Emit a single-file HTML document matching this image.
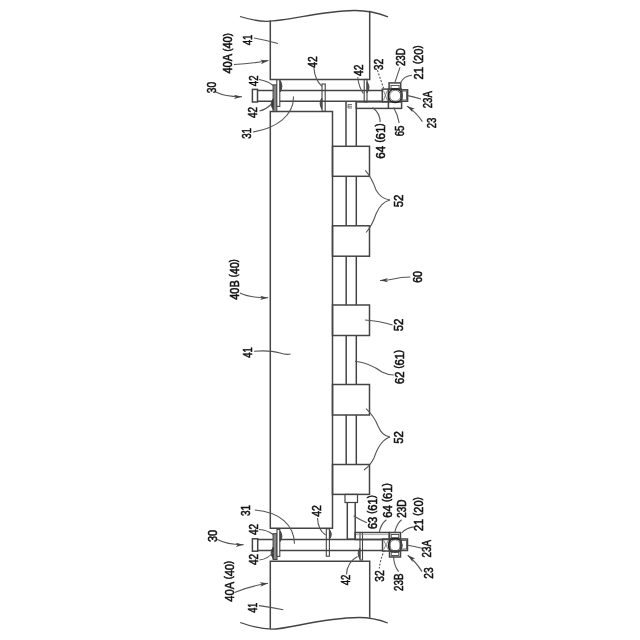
<!DOCTYPE html>
<html><head><meta charset="utf-8"><style>
html,body{margin:0;padding:0;background:#fff;}
body{width:640px;height:640px;overflow:hidden;}
svg{display:block;will-change:transform;}
text{font-family:"Liberation Sans",sans-serif;fill:#111;stroke:#111;stroke-width:0.55px;}
</style></head><body>
<svg width="640" height="640" viewBox="0 0 640 640">
<rect width="640" height="640" fill="#fff"/>
<path d="M240,16.5 C250,19.5 258,21.5 267,21.3 C290,21 320,11 354,10.5 C368,10.3 378,13 388,16.8" stroke="#444" stroke-width="1.3" fill="none" />
<path d="M240.2,622.5 C250,626 260,629 271.5,629.2 C290,629 320,618 359,617.5 C370,617.5 380,620 387.8,623" stroke="#444" stroke-width="1.3" fill="none" />
<path d="M270.3,20.5 V79.4 H369.7 V10.8" stroke="#444" stroke-width="1.5" fill="none" />
<path d="M270.3,111.6 V528.3 H332.5 V111.6 Z" stroke="#444" stroke-width="1.5" fill="none" />
<path d="M270.3,629 V561.3 H369.7 V617.7" stroke="#444" stroke-width="1.5" fill="none" />
<rect x="252.4" y="89.4" width="5.1" height="12.6" stroke="#444" stroke-width="1.5" fill="none"/>
<line x1="257.5" y1="90.4" x2="382.3" y2="90.4" stroke="#444" stroke-width="1.5" />
<line x1="257.5" y1="101.2" x2="382.3" y2="101.2" stroke="#444" stroke-width="1.5" />
<rect x="252.4" y="538.8" width="5.3" height="12.4" stroke="#444" stroke-width="1.5" fill="none"/>
<line x1="257.7" y1="539.6" x2="382.5" y2="539.6" stroke="#444" stroke-width="1.5" />
<line x1="257.7" y1="550.5" x2="382.5" y2="550.5" stroke="#444" stroke-width="1.5" />
<rect x="273.1" y="84.9" width="3.7" height="26.6" stroke="#444" stroke-width="1.1" fill="#9a9a9a"/>
<path d="M274.95000000000005,84.9 V111.5" stroke="#555" stroke-width="0.6"/>
<rect x="276.8" y="79.8" width="3.0" height="26.6" stroke="#444" stroke-width="1.1" fill="#fff"/>
<path d="M280.2,80.6 Q283.5,86 280.2,91.9 Z" stroke="#444" stroke-width="1.0" fill="#333" />
<path d="M273.3,98.6 Q269,104 273.3,109.5 Z" stroke="#444" stroke-width="1.0" fill="#333" />
<rect x="273.1" y="533.7" width="3.9" height="25.8" stroke="#444" stroke-width="1.1" fill="#9a9a9a"/>
<path d="M275.05,533.7 V559.5" stroke="#555" stroke-width="0.6"/>
<rect x="277.0" y="529.4" width="2.8" height="27.0" stroke="#444" stroke-width="1.1" fill="#fff"/>
<path d="M280.2,531 Q283.5,536.2 280.2,541.5 Z" stroke="#444" stroke-width="1.0" fill="#333" />
<path d="M273.3,547 Q269,552.8 273.3,558.7 Z" stroke="#444" stroke-width="1.0" fill="#333" />
<rect x="322.0" y="84.0" width="3.2" height="27.3" stroke="#444" stroke-width="1.1" fill="none"/>
<path d="M321.8,98 Q318.5,103.5 321.8,109 Z" stroke="#444" stroke-width="1.0" fill="#555" />
<rect x="326.3" y="528.8" width="3.1" height="27.4" stroke="#444" stroke-width="1.1" fill="none"/>
<path d="M329.6,530 Q333,534.4 329.6,538.8 Z" stroke="#444" stroke-width="1.0" fill="#555" />
<rect x="364.2" y="79.4" width="2.8" height="22.6" stroke="#444" stroke-width="1.1" fill="none"/>
<path d="M367,81.8 Q371,87.3 367,92.8 Z" stroke="#444" stroke-width="1.0" fill="#555" />
<rect x="360.0" y="532.5" width="2.5" height="27.5" stroke="#444" stroke-width="1.1" fill="none"/>
<path d="M359.8,548 Q356.5,553.4 359.8,558.8 Z" stroke="#444" stroke-width="1.0" fill="#555" />
<line x1="346.0" y1="101.5" x2="346.0" y2="146.3" stroke="#444" stroke-width="1.5" />
<line x1="356.3" y1="101.5" x2="356.3" y2="146.3" stroke="#444" stroke-width="1.5" />
<path d="M348,104.5 H352 M348,106.3 H352 M348,108 H352 M348,104.5 V108" stroke="#555" stroke-width="0.8" fill="none" />
<rect x="356.3" y="101.9" width="45.3" height="6.5" stroke="#444" stroke-width="1.5" fill="none"/>
<line x1="388.4" y1="101.9" x2="388.4" y2="108.4" stroke="#444" stroke-width="1.5" />
<rect x="332.5" y="146.3" width="37.0" height="30.0" stroke="#444" stroke-width="1.5" fill="none"/>
<rect x="332.5" y="225.8" width="37.0" height="30.399999999999977" stroke="#444" stroke-width="1.5" fill="none"/>
<rect x="332.5" y="305.0" width="37.0" height="30.5" stroke="#444" stroke-width="1.5" fill="none"/>
<rect x="332.5" y="384.5" width="37.0" height="30.5" stroke="#444" stroke-width="1.5" fill="none"/>
<rect x="332.5" y="464.5" width="37.0" height="29.899999999999977" stroke="#444" stroke-width="1.5" fill="none"/>
<line x1="346.2" y1="176.3" x2="346.2" y2="225.8" stroke="#444" stroke-width="1.5" />
<line x1="356.3" y1="176.3" x2="356.3" y2="225.8" stroke="#444" stroke-width="1.5" />
<line x1="346.2" y1="256.2" x2="346.2" y2="305.0" stroke="#444" stroke-width="1.5" />
<line x1="356.3" y1="256.2" x2="356.3" y2="305.0" stroke="#444" stroke-width="1.5" />
<line x1="346.2" y1="335.5" x2="346.2" y2="384.5" stroke="#444" stroke-width="1.5" />
<line x1="356.3" y1="335.5" x2="356.3" y2="384.5" stroke="#444" stroke-width="1.5" />
<line x1="346.2" y1="415.0" x2="346.2" y2="464.5" stroke="#444" stroke-width="1.5" />
<line x1="356.3" y1="415.0" x2="356.3" y2="464.5" stroke="#444" stroke-width="1.5" />
<rect x="345.0" y="494.4" width="12.5" height="8.1" stroke="#444" stroke-width="1.2" fill="none"/>
<line x1="347.3" y1="502.5" x2="347.3" y2="539.2" stroke="#444" stroke-width="1.5" />
<line x1="355.2" y1="502.5" x2="355.2" y2="539.2" stroke="#444" stroke-width="1.5" />
<line x1="347.3" y1="539.2" x2="355.2" y2="539.2" stroke="#444" stroke-width="1.5" />
<rect x="355.2" y="532.5" width="34.0" height="7.0" stroke="#444" stroke-width="1.5" fill="none"/>
<line x1="356" y1="534.6" x2="388" y2="534.6" stroke="#888" stroke-width="0.7" />
<rect x="389.1" y="82.9" width="11.6" height="6.2" stroke="#444" stroke-width="1.5" fill="none"/>
<rect x="391.0" y="85.4" width="8.1" height="3.1" stroke="#444" stroke-width="0.9" fill="none"/>
<rect x="382.3" y="89.1" width="6.2" height="12.5" stroke="#444" stroke-width="1.5" fill="none"/>
<path d="M383.5,90.5 L387.3,100.3 M387.3,90.5 L383.5,100.3" stroke="#555" stroke-width="0.7" fill="none" />
<rect x="388.5" y="89.1" width="12.8" height="12.5" stroke="#444" stroke-width="1.5" fill="none"/>
<circle cx="395.2" cy="95.8" r="6.9" fill="none" stroke="#1e1e1e" stroke-width="1.2"/>
<circle cx="395.2" cy="95.8" r="5.5" fill="none" stroke="#555" stroke-width="0.8"/>
<rect x="401.3" y="89.8" width="6.3" height="11.5" stroke="#444" stroke-width="1.5" fill="none"/>
<rect x="402.2" y="91.0" width="4.3" height="9.0" stroke="#444" stroke-width="0.8" fill="none"/>
<rect x="389.5" y="532.5" width="11.0" height="6.5" stroke="#444" stroke-width="1.5" fill="none"/>
<rect x="391.2" y="534.5" width="7.6" height="3.2" stroke="#444" stroke-width="0.9" fill="none"/>
<rect x="382.5" y="539.0" width="7.0" height="12.0" stroke="#444" stroke-width="1.5" fill="none"/>
<path d="M383.7,540.5 L388.3,549.5 M388.3,540.5 L383.7,549.5" stroke="#555" stroke-width="0.7" fill="none" />
<rect x="389.5" y="539.0" width="11.0" height="12.0" stroke="#444" stroke-width="1.5" fill="none"/>
<circle cx="395.2" cy="545.3" r="6.9" fill="none" stroke="#1e1e1e" stroke-width="1.2"/>
<circle cx="395.2" cy="545.3" r="5.5" fill="none" stroke="#555" stroke-width="0.8"/>
<rect x="400.5" y="539.0" width="7.0" height="11.5" stroke="#444" stroke-width="1.5" fill="none"/>
<rect x="401.5" y="540.5" width="5.0" height="8.5" stroke="#444" stroke-width="0.8" fill="none"/>
<rect x="389.5" y="551.0" width="11.0" height="6.0" stroke="#444" stroke-width="1.5" fill="none"/>
<rect x="391.2" y="552.3" width="7.6" height="3.2" stroke="#444" stroke-width="0.9" fill="none"/>
<path d="M254,38 Q265,40 278,43.5" stroke="#555" stroke-width="1.1" fill="none" />
<path d="M234,64.5 Q250,64 268.5,60.5" stroke="#555" stroke-width="1.1" fill="none" />
<path d="M268.5,60.5 L261.05,64.15 L262.60,61.62 L260.23,59.83 Z" fill="#444"/>
<path d="M215.6,92 Q226,97 242,96.7" stroke="#555" stroke-width="1.1" fill="none" />
<path d="M242,96.7 L234.04,99.05 L236.00,96.81 L233.96,94.65 Z" fill="#444"/>
<path d="M259,79.5 Q268,81 273,85.5" stroke="#555" stroke-width="1.1" fill="none" />
<path d="M259.5,111 Q266,109.5 271.5,104" stroke="#555" stroke-width="1.1" fill="none" />
<path d="M253,132 C276,128 294,116 293.5,96.5" stroke="#555" stroke-width="1.1" fill="none" />
<path d="M313.9,68.1 Q315,80 321.9,86.4" stroke="#555" stroke-width="1.1" fill="none" />
<path d="M357.7,77.3 Q359,88 363.4,93.4" stroke="#555" stroke-width="1.1" fill="none" />
<path d="M377.4,70.2 L383.7,88.5" stroke="#555" stroke-width="1.1" fill="none" stroke-dasharray="2,1.5"/>
<path d="M400,67.4 Q397,76 395,82.4" stroke="#555" stroke-width="1.1" fill="none" />
<path d="M411.9,75.2 Q404,76 400.6,82.4" stroke="#555" stroke-width="1.1" fill="none" />
<path d="M407.7,95.6 Q414,97 421,99" stroke="#555" stroke-width="1.1" fill="none" />
<path d="M422.4,121.6 Q416,112 407,106.1" stroke="#555" stroke-width="1.1" fill="none" />
<path d="M407,106.1 L414.90,108.65 L412.02,109.39 L412.48,112.33 Z" fill="#444"/>
<path d="M393.6,107.5 Q398,115 399.2,123" stroke="#555" stroke-width="1.1" fill="none" />
<path d="M372.5,107.5 Q380,113 380.2,122" stroke="#555" stroke-width="1.1" fill="none" />
<path d="M365.3,170.3 Q372,178 376,190 Q381,199 390,200" stroke="#555" stroke-width="1.1" fill="none" />
<path d="M366,232.5 Q372,226 376,214 Q381,202 390,200" stroke="#555" stroke-width="1.1" fill="none" />
<path d="M365,320 Q380,321 392.5,325" stroke="#555" stroke-width="1.1" fill="none" />
<path d="M355,361.2 Q370,363 382,372 Q388,375 393.8,375" stroke="#555" stroke-width="1.1" fill="none" />
<path d="M366,408.7 Q374,416 378,426 Q382,436 390,437" stroke="#555" stroke-width="1.1" fill="none" />
<path d="M364,470 Q370,466 374,458 Q380,440 390,437" stroke="#555" stroke-width="1.1" fill="none" />
<path d="M410.3,277 C400,277 393,279 388,280" stroke="#555" stroke-width="1.1" fill="none" />
<path d="M388,280 Q384,280.3 380,280.5" stroke="#555" stroke-width="1.1" fill="none" />
<path d="M380,280.5 L387.88,277.90 L385.99,280.20 L388.10,282.30 Z" fill="#444"/>
<path d="M240,293.1 Q250,298 268.1,297.8" stroke="#555" stroke-width="1.1" fill="none" />
<path d="M268.1,297.8 L260.12,300.09 L262.10,297.87 L260.08,295.69 Z" fill="#444"/>
<path d="M254,351.2 Q270,350 280,353 Q286,355 290.6,354" stroke="#555" stroke-width="1.1" fill="none" />
<path d="M254.8,510 C280,512 294,525 294.5,543.7" stroke="#555" stroke-width="1.1" fill="none" />
<path d="M259,529.5 Q268,530 273.5,535" stroke="#555" stroke-width="1.1" fill="none" />
<path d="M259.5,560 Q268,559 273.5,552" stroke="#555" stroke-width="1.1" fill="none" />
<path d="M217.3,539.6 Q228,545 243.7,544.7" stroke="#555" stroke-width="1.1" fill="none" />
<path d="M243.7,544.7 L235.74,547.05 L237.70,544.81 L235.66,542.65 Z" fill="#444"/>
<path d="M234.5,592.4 Q250,586 268,583.3" stroke="#555" stroke-width="1.1" fill="none" />
<path d="M268,583.3 L260.41,586.66 L262.07,584.19 L259.76,582.31 Z" fill="#444"/>
<path d="M259,605.6 Q270,607 283.3,609.7" stroke="#555" stroke-width="1.1" fill="none" />
<path d="M317.5,518 Q318,530 325.6,535" stroke="#555" stroke-width="1.1" fill="none" />
<path d="M353.6,515.8 Q360,520 366.9,522.8" stroke="#555" stroke-width="1.1" fill="none" />
<path d="M379.3,532 Q381,524 386.4,519.8" stroke="#555" stroke-width="1.1" fill="none" />
<path d="M394.5,533 Q397,523 401.6,519.8" stroke="#555" stroke-width="1.1" fill="none" />
<path d="M401.6,533 Q406,528 413.8,526.9" stroke="#555" stroke-width="1.1" fill="none" />
<path d="M407.7,545.2 Q414,546 422,548.2" stroke="#555" stroke-width="1.1" fill="none" />
<path d="M422,571.6 Q416,562 407.7,555.3" stroke="#555" stroke-width="1.1" fill="none" />
<path d="M407.7,555.3 L415.31,558.61 L412.37,559.07 L412.54,562.04 Z" fill="#444"/>
<path d="M384.4,550.2 Q380,560 379.3,568.5" stroke="#555" stroke-width="1.1" fill="none" stroke-dasharray="2,1.5"/>
<path d="M393.5,556.3 Q394,566 398.6,571.6" stroke="#555" stroke-width="1.1" fill="none" />
<path d="M357.5,556.4 Q347,562 346.5,574.4" stroke="#555" stroke-width="1.1" fill="none" />
<text transform="translate(252.10,40.00) rotate(-90)" text-anchor="middle" font-size="13" textLength="10.70" lengthAdjust="spacingAndGlyphs">41</text>
<text transform="translate(232.40,53.40) rotate(-90)" text-anchor="middle" font-size="13" textLength="40.20" lengthAdjust="spacingAndGlyphs">40A <tspan font-size="10.5" dy="-1.9">(</tspan><tspan dy="1.9">40</tspan><tspan font-size="10.5" dy="-1.9">)</tspan></text>
<text transform="translate(216.30,87.50) rotate(-90)" text-anchor="middle" font-size="13" textLength="11.40" lengthAdjust="spacingAndGlyphs">30</text>
<text transform="translate(257.70,80.80) rotate(-90)" text-anchor="middle" font-size="13" textLength="10.70" lengthAdjust="spacingAndGlyphs">42</text>
<text transform="translate(256.80,112.40) rotate(-90)" text-anchor="middle" font-size="13" textLength="11.20" lengthAdjust="spacingAndGlyphs">42</text>
<text transform="translate(250.55,133.40) rotate(-90)" text-anchor="middle" font-size="13" textLength="10.95" lengthAdjust="spacingAndGlyphs">31</text>
<text transform="translate(317.30,62.00) rotate(-90)" text-anchor="middle" font-size="13" textLength="11.40" lengthAdjust="spacingAndGlyphs">42</text>
<text transform="translate(362.70,70.20) rotate(-90)" text-anchor="middle" font-size="13" textLength="11.50" lengthAdjust="spacingAndGlyphs">42</text>
<text transform="translate(383.10,64.60) rotate(-90)" text-anchor="middle" font-size="13" textLength="11.40" lengthAdjust="spacingAndGlyphs">32</text>
<text transform="translate(404.90,57.20) rotate(-90)" text-anchor="middle" font-size="13" textLength="17.80" lengthAdjust="spacingAndGlyphs">23D</text>
<text transform="translate(423.20,62.50) rotate(-90)" text-anchor="middle" font-size="13" textLength="34.00" lengthAdjust="spacingAndGlyphs">21 <tspan font-size="10.5" dy="-1.9">(</tspan><tspan dy="1.9">20</tspan><tspan font-size="10.5" dy="-1.9">)</tspan></text>
<text transform="translate(432.30,99.70) rotate(-90)" text-anchor="middle" font-size="13" textLength="17.10" lengthAdjust="spacingAndGlyphs">23A</text>
<text transform="translate(435.90,123.00) rotate(-90)" text-anchor="middle" font-size="13" textLength="10.70" lengthAdjust="spacingAndGlyphs">23</text>
<text transform="translate(404.00,131.00) rotate(-90)" text-anchor="middle" font-size="13" textLength="10.70" lengthAdjust="spacingAndGlyphs">65</text>
<text transform="translate(385.30,141.00) rotate(-90)" text-anchor="middle" font-size="13" textLength="35.40" lengthAdjust="spacingAndGlyphs">64 <tspan font-size="10.5" dy="-1.9">(</tspan><tspan dy="1.9">61</tspan><tspan font-size="10.5" dy="-1.9">)</tspan></text>
<text transform="translate(403.30,201.00) rotate(-90)" text-anchor="middle" font-size="13" textLength="12.70" lengthAdjust="spacingAndGlyphs">52</text>
<text transform="translate(421.80,277.00) rotate(-90)" text-anchor="middle" font-size="13" textLength="11.70" lengthAdjust="spacingAndGlyphs">60</text>
<text transform="translate(403.30,325.00) rotate(-90)" text-anchor="middle" font-size="13" textLength="12.70" lengthAdjust="spacingAndGlyphs">52</text>
<text transform="translate(404.30,367.00) rotate(-90)" text-anchor="middle" font-size="13" textLength="33.95" lengthAdjust="spacingAndGlyphs">62 <tspan font-size="10.5" dy="-1.9">(</tspan><tspan dy="1.9">61</tspan><tspan font-size="10.5" dy="-1.9">)</tspan></text>
<text transform="translate(403.30,437.50) rotate(-90)" text-anchor="middle" font-size="13" textLength="12.70" lengthAdjust="spacingAndGlyphs">52</text>
<text transform="translate(238.70,279.50) rotate(-90)" text-anchor="middle" font-size="13" textLength="40.50" lengthAdjust="spacingAndGlyphs">40B <tspan font-size="10.5" dy="-1.9">(</tspan><tspan dy="1.9">40</tspan><tspan font-size="10.5" dy="-1.9">)</tspan></text>
<text transform="translate(251.80,352.60) rotate(-90)" text-anchor="middle" font-size="13" textLength="10.50" lengthAdjust="spacingAndGlyphs">41</text>
<text transform="translate(376.90,512.20) rotate(-90)" text-anchor="middle" font-size="13" textLength="33.70" lengthAdjust="spacingAndGlyphs">63 <tspan font-size="10.5" dy="-1.9">(</tspan><tspan dy="1.9">61</tspan><tspan font-size="10.5" dy="-1.9">)</tspan></text>
<text transform="translate(391.70,500.50) rotate(-90)" text-anchor="middle" font-size="13" textLength="34.70" lengthAdjust="spacingAndGlyphs">64 <tspan font-size="10.5" dy="-1.9">(</tspan><tspan dy="1.9">61</tspan><tspan font-size="10.5" dy="-1.9">)</tspan></text>
<text transform="translate(405.90,508.60) rotate(-90)" text-anchor="middle" font-size="13" textLength="18.20" lengthAdjust="spacingAndGlyphs">23D</text>
<text transform="translate(423.20,514.20) rotate(-90)" text-anchor="middle" font-size="13" textLength="33.70" lengthAdjust="spacingAndGlyphs">21 <tspan font-size="10.5" dy="-1.9">(</tspan><tspan dy="1.9">20</tspan><tspan font-size="10.5" dy="-1.9">)</tspan></text>
<text transform="translate(431.30,548.70) rotate(-90)" text-anchor="middle" font-size="13" textLength="17.50" lengthAdjust="spacingAndGlyphs">23A</text>
<text transform="translate(433.30,573.00) rotate(-90)" text-anchor="middle" font-size="13" textLength="11.40" lengthAdjust="spacingAndGlyphs">23</text>
<text transform="translate(383.60,576.00) rotate(-90)" text-anchor="middle" font-size="13" textLength="11.40" lengthAdjust="spacingAndGlyphs">32</text>
<text transform="translate(402.90,582.20) rotate(-90)" text-anchor="middle" font-size="13" textLength="17.50" lengthAdjust="spacingAndGlyphs">23B</text>
<text transform="translate(350.10,580.00) rotate(-90)" text-anchor="middle" font-size="13" textLength="10.70" lengthAdjust="spacingAndGlyphs">42</text>
<text transform="translate(321.20,511.00) rotate(-90)" text-anchor="middle" font-size="13" textLength="11.70" lengthAdjust="spacingAndGlyphs">42</text>
<text transform="translate(250.00,510.50) rotate(-90)" text-anchor="middle" font-size="13" textLength="11.20" lengthAdjust="spacingAndGlyphs">31</text>
<text transform="translate(258.10,529.50) rotate(-90)" text-anchor="middle" font-size="13" textLength="11.20" lengthAdjust="spacingAndGlyphs">42</text>
<text transform="translate(258.10,559.40) rotate(-90)" text-anchor="middle" font-size="13" textLength="11.20" lengthAdjust="spacingAndGlyphs">42</text>
<text transform="translate(216.50,536.00) rotate(-90)" text-anchor="middle" font-size="13" textLength="12.20" lengthAdjust="spacingAndGlyphs">30</text>
<text transform="translate(233.80,581.30) rotate(-90)" text-anchor="middle" font-size="13" textLength="40.80" lengthAdjust="spacingAndGlyphs">40A <tspan font-size="10.5" dy="-1.9">(</tspan><tspan dy="1.9">40</tspan><tspan font-size="10.5" dy="-1.9">)</tspan></text>
<text transform="translate(257.10,607.70) rotate(-90)" text-anchor="middle" font-size="13" textLength="10.20" lengthAdjust="spacingAndGlyphs">41</text>
</svg>
</body></html>
